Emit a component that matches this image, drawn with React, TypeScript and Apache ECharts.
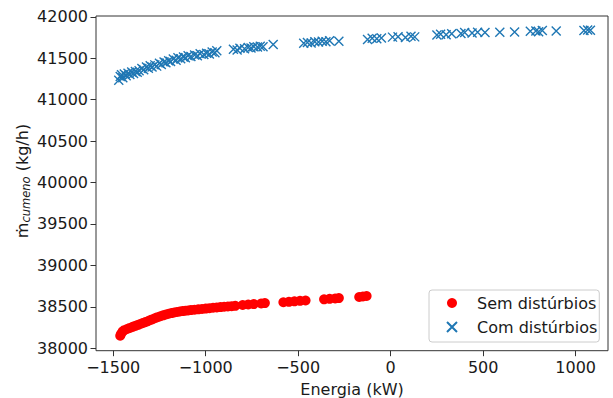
import React, { useEffect, useRef } from "react";
import * as echarts from "echarts";

const xTicks = [-1500, -1000, -500, 0, 500, 1000];
const yTicks = [38000, 38500, 39000, 39500, 40000, 40500, 41000, 41500, 42000];

const semX = [
  -1462, -1458, -1450, -1440, -1425, -1410, -1395, -1380, -1365, -1350, -1335, -1320, -1305, -1290, -1275,
  -1260, -1245, -1230, -1215, -1200, -1185, -1170, -1155, -1140, -1125, -1110, -1095, -1080, -1060, -1040,
  -1020, -1000, -980, -960, -940, -920, -900, -880, -860, -840, -800, -770, -740, -700, -680,
  -580, -550, -520, -490, -460, -360, -330, -300, -280, -170, -150, -130,
];
const semY = [
  38150, 38172, 38200, 38218, 38232, 38245, 38258, 38270, 38282, 38295, 38308, 38320, 38334, 38348, 38362,
  38375, 38386, 38397, 38407, 38416, 38424, 38431, 38437, 38443, 38448, 38452, 38456, 38460, 38465, 38469,
  38473, 38478, 38483, 38488, 38492, 38496, 38500, 38504, 38508, 38512, 38522, 38528, 38533, 38540, 38545,
  38555, 38560, 38566, 38572, 38576, 38590, 38596, 38600, 38605, 38618, 38624, 38630,
];

const comX = [
  -1470, -1462, -1455, -1448, -1440, -1430, -1420, -1410, -1400, -1390, -1380, -1370, -1360, -1345, -1335,
  -1320, -1310, -1300, -1290, -1275, -1265, -1250, -1240, -1225, -1215, -1200, -1190, -1175, -1160, -1150,
  -1135, -1120, -1110, -1095, -1080, -1060, -1045, -1030, -1010, -995, -980, -965, -950, -940,
  -850, -830, -815, -790, -770, -755, -740, -720, -705, -690, -635,
  -470, -450, -430, -410, -390, -370, -350, -330, -280,
  -125, -100, -75, -50, 10, 40, 80, 110, 130,
  250, 270, 300, 330, 380, 400, 440, 470, 510, 590, 670,
  755, 785, 800, 820, 895, 1045, 1065, 1080,
];
const comY = [
  41235, 41280, 41300, 41265, 41310, 41290, 41320, 41305, 41335, 41315, 41340, 41330, 41350, 41375, 41360,
  41395, 41380, 41410, 41395, 41420, 41405, 41440, 41425, 41455, 41445, 41470, 41460, 41490, 41475, 41505,
  41495, 41515, 41505, 41530, 41520, 41540, 41530, 41555, 41545, 41560, 41550, 41575, 41565, 41590,
  41610, 41600, 41620, 41615, 41630, 41625, 41640, 41635, 41645, 41640, 41665,
  41680, 41690, 41685, 41700, 41695, 41705, 41700, 41710, 41705,
  41725, 41740, 41735, 41745, 41755, 41760, 41750, 41765, 41758,
  41780, 41790, 41785, 41795, 41800, 41810, 41805, 41815, 41812, 41815, 41818,
  41825, 41830, 41820, 41835, 41828, 41835, 41842, 41838,
];

const FONT = "DejaVu Sans";
const TXT = "#1a1a1a";

export default function App() {
  const ref = useRef<HTMLDivElement>(null);
  useEffect(() => {
    if (!ref.current) return;
    const chart = echarts.init(ref.current, undefined, { renderer: "svg" });
    const semData = semX.map((x, i) => [x, semY[i]]);
    const comData = comX.map((x, i) => [x, comY[i]]);
    chart.setOption({
      animation: false,
      backgroundColor: "#ffffff",
      textStyle: { fontFamily: FONT },
      grid: {
        left: 96,
        right: 5,
        top: 16,
        bottom: 47.3,
        show: true,
        borderColor: "#333333",
        borderWidth: 1,
        containLabel: false,
        outerBoundsMode: "none",
      },
      xAxis: {
        type: "value",
        position: "bottom",
        min: -1593,
        max: 1175,
        axisLine: { show: false, onZero: false },
        splitLine: { show: false },
        axisTick: {
          show: true,
          customValues: xTicks,
          length: 5.5,
          lineStyle: { color: "#333333", width: 1 },
        },
        axisLabel: {
          customValues: xTicks,
          margin: 9,
          fontSize: 16,
          fontFamily: FONT,
          color: TXT,
          formatter: (v: number) => String(v).replace("-", "\u2212"),
        },
        name: "Energia (kW)",
        nameLocation: "middle",
        nameGap: 31,
        nameTextStyle: { fontSize: 16, fontFamily: FONT, color: TXT },
      },
      yAxis: {
        type: "value",
        position: "left",
        min: 37970,
        max: 42010,
        axisLine: { show: false, onZero: false },
        splitLine: { show: false },
        axisTick: {
          show: true,
          customValues: yTicks,
          length: 5.5,
          lineStyle: { color: "#333333", width: 1 },
        },
        axisLabel: {
          customValues: yTicks,
          margin: 8,
          fontSize: 16,
          fontFamily: FONT,
          color: TXT,
          formatter: (v: number) => String(v),
        },
      },
      legend: {
        orient: "vertical",
        left: 429,
        top: 290,
        padding: [4, 2, 6, 17],
        itemWidth: 24,
        itemHeight: 10,
        itemGap: 6,
        borderColor: "#cccccc",
        borderWidth: 1,
        borderRadius: 3,
        backgroundColor: "rgba(255,255,255,0.8)",
        textStyle: {
          fontSize: 16,
          fontFamily: FONT,
          color: TXT,
          lineHeight: 18,
          padding: [0, 0, 0, 8],
        },
        data: ["Sem distúrbios", "Com distúrbios"],
      },
      graphic: [
        {
          type: "text",
          x: 22,
          y: 181,
          rotation: Math.PI / 2,
          style: {
            text: "{m|ṁ}{sub|cumeno}{m| (kg/h)}",
            align: "center",
            verticalAlign: "middle",
            fill: TXT,
            rich: {
              m: { fontSize: 16, fontFamily: FONT, fill: TXT, lineHeight: 20 },
              sub: {
                fontSize: 11.5,
                fontFamily: FONT,
                fontStyle: "italic",
                fill: TXT,
                lineHeight: 20,
                padding: [7, 0, 0, 0],
              },
            },
          },
        },
      ],
      series: [
        {
          name: "Sem distúrbios",
          type: "scatter",
          data: semData,
          symbol: "circle",
          symbolSize: 10,
          itemStyle: { color: "#ff0000", opacity: 1 },
        },
        {
          name: "Com distúrbios",
          type: "scatter",
          data: comData,
          symbol: "path://M0,0L10,10M10,0L0,10",
          symbolSize: 9,
          itemStyle: { color: "rgba(0,0,0,0)", borderColor: "#1f77b4", borderWidth: 1.4, opacity: 1 },
        },
      ],
    });
    return () => chart.dispose();
  }, []);
  return (
    <div
      ref={ref}
      style={{ position: "fixed", left: 0, top: 0, width: 613, height: 398 }}
    />
  );
}
